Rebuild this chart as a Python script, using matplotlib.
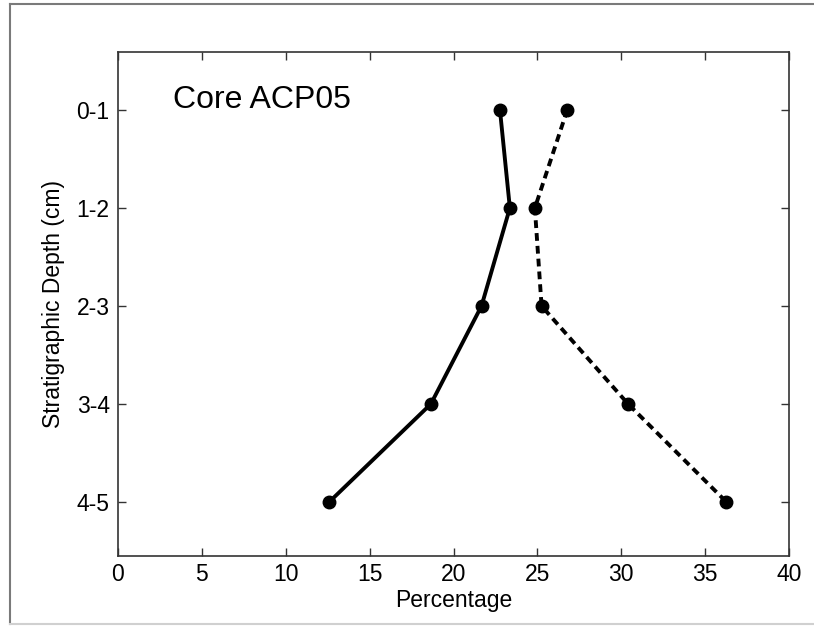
import matplotlib
matplotlib.use("Agg")
import matplotlib.pyplot as plt
from matplotlib.lines import Line2D

depths = ["0-1", "1-2", "2-3", "3-4", "4-5"]
series_solid = [22.77, 23.36, 21.67, 18.65, 12.59]
series_dashed = [26.78, 24.85, 25.25, 30.41, 36.27]
x_ticks = [0, 5, 10, 15, 20, 25, 30, 35, 40]

plt.rcParams['font.family'] = ['Liberation Sans', 'DejaVu Sans']

W, H = 814, 626
fig = plt.figure(figsize=(W / 100, H / 100), dpi=100)
fig.patch.set_facecolor('white')

# outer frame
fig.add_artist(Line2D([10 / W, 10 / W], [1 - 4 / H, 1 - 624 / H], transform=fig.transFigure,
                      color='#7a7a7a', lw=1.5))
fig.add_artist(Line2D([10 / W, 1.0], [1 - 4 / H, 1 - 4 / H], transform=fig.transFigure,
                      color='#7a7a7a', lw=1.5))
fig.add_artist(Line2D([10 / W, 1.0], [1 - 624 / H, 1 - 624 / H], transform=fig.transFigure,
                      color='#d0d0d0', lw=1.5))

left, right, top, bottom = 118, 789, 52, 556
ax = fig.add_axes([left / W, 1 - bottom / H, (right - left) / W, (bottom - top) / H])

ypos = list(range(1, len(depths) + 1))
ax.plot(series_solid, ypos, color='black', lw=2.8, ls='-', marker='o', ms=9)
ax.plot(series_dashed, ypos, color='black', lw=2.8, ls=(0, (2.0, 1.3)), marker='o', ms=9)

ax.set_xlim(0, 40)
ax.set_ylim(5 + 54 / 98, 1 - 58 / 98)
ax.set_xticks(x_ticks)
ax.set_xticklabels([str(t) for t in x_ticks])
ax.set_yticks(ypos)
ax.set_yticklabels(depths)

ax.tick_params(direction='in', length=6, width=1, top=True, right=True,
               labelsize=16.5, pad=5, colors='#333333', labelcolor='black')
ax.tick_params(axis='y', pad=6)
for s in ax.spines.values():
    s.set_color('#333333')
    s.set_linewidth(1.2)

ax.set_xlabel('Percentage', fontsize=16.5, labelpad=2)
ax.set_ylabel('Stratigraphic Depth (cm)', fontsize=16.5, labelpad=8)

ax.text(0.082, 0.905, 'Core ACP05', transform=ax.transAxes, fontsize=23,
        ha='left', va='center')

fig.savefig('out.png', dpi=100, facecolor='white')
